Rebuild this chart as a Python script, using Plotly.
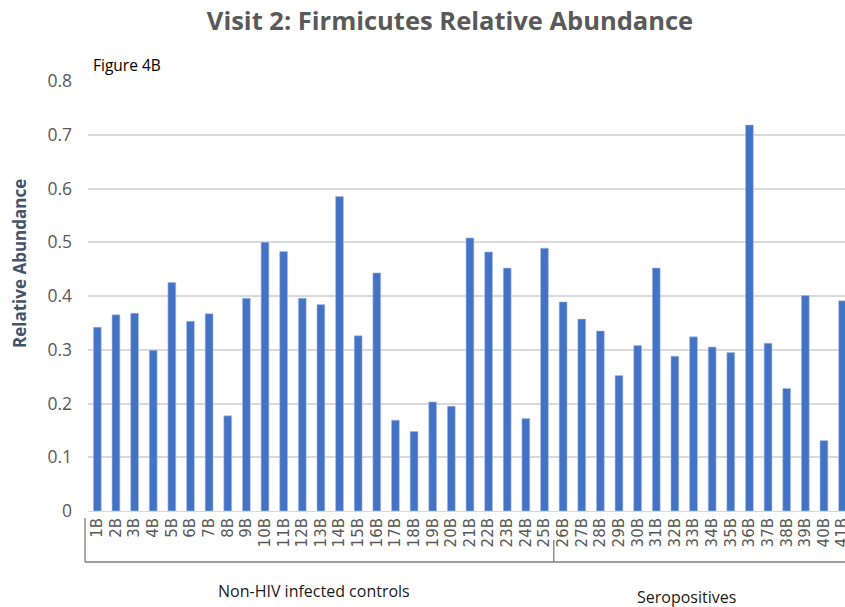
import plotly.graph_objects as go

# Sample IDs and Firmicutes relative abundance at visit 2
samples = [f"{i}B" for i in range(1, 42)]
abundance = [
    0.342, 0.365, 0.368, 0.299, 0.425, 0.353, 0.367, 0.177, 0.396, 0.500,
    0.483, 0.396, 0.384, 0.585, 0.326, 0.443, 0.169, 0.148, 0.203, 0.195,
    0.508, 0.482, 0.452, 0.172, 0.489, 0.389, 0.357, 0.335, 0.252, 0.308,
    0.452, 0.288, 0.324, 0.305, 0.295, 0.718, 0.312, 0.228, 0.401, 0.131,
    0.391,
]
groups = ["Non-HIV infected controls", "Seropositives"]
group_sizes = [25, 16]
y_ticks = [0, 0.1, 0.2, 0.3, 0.4, 0.5, 0.6, 0.7, 0.8]

W, H = 845, 607
L, R, T, B = 88, 0, 81, 96
plot_w = W - L - R
plot_h = H - T - B

BAR = "#4472C4"
GREY = "#595959"
FONT = "Open Sans"

fig = go.Figure(
    go.Bar(
        x=samples,
        y=abundance,
        marker=dict(color=BAR, line=dict(color="#a9bfe6", width=0.6)),
        width=0.42,
        hoverinfo="x+y",
    )
)

fig.update_layout(
    width=W,
    height=H,
    margin=dict(l=L, r=R, t=T, b=B, autoexpand=False),
    plot_bgcolor="white",
    paper_bgcolor="white",
    showlegend=False,
    font=dict(family=FONT, color=GREY),
    title=dict(
        text="<b>Visit 2: Firmicutes Relative Abundance</b>",
        x=450 / W,
        xanchor="center",
        y=1 - 21 / H,
        yanchor="middle",
        font=dict(size=25.5, color=GREY, family=FONT),
    ),
)

fig.update_xaxes(
    type="category",
    range=[-0.5, 40.13],
    tickmode="array",
    tickvals=samples,
    ticktext=samples,
    tickangle=-90,
    tickfont=dict(size=15, color=GREY, family="DejaVu Sans"),
    showgrid=False,
    showline=True,
    linecolor="#d9d9d9",
    linewidth=1,
    ticks="",
    automargin=False,
)

fig.update_yaxes(
    range=[0, 0.8],
    tickvals=y_ticks,
    ticktext=[f"{v:g}" for v in y_ticks],
    tickfont=dict(size=17.5, color=GREY, family=FONT),
    showgrid=True,
    gridcolor="#d9d9d9",
    gridwidth=1.5,
    zeroline=False,
    ticklabelstandoff=15,
    automargin=False,
)


def px_x(pixel_x):
    """Convert a page pixel column into paper x coordinates."""
    return (pixel_x - L) / plot_w


def px_y(pixel_y):
    """Convert a page pixel row into paper y coordinates."""
    return (H - B - pixel_y) / plot_h


line_style = dict(color="#7f7f7f", width=1.3)
shapes = [
    # left edge of the group bracket
    dict(type="line", xref="paper", yref="paper", x0=px_x(85), x1=px_x(85),
         y0=px_y(518), y1=px_y(562), line=line_style),
    # bottom rail of the group bracket
    dict(type="line", xref="paper", yref="paper", x0=px_x(85), x1=1.0,
         y0=px_y(562), y1=px_y(562), line=line_style),
    # divider between the two groups
    dict(type="line", xref="x", yref="paper",
         x0=group_sizes[0] - 0.5, x1=group_sizes[0] - 0.5,
         y0=px_y(540), y1=px_y(562), line=line_style),
]
fig.update_layout(shapes=shapes)

# y-axis title, placed as free text
fig.add_annotation(
    text="<b>Relative Abundance</b>",
    xref="paper", yref="paper", x=px_x(19), y=px_y(264),
    textangle=-90, showarrow=False, xanchor="center", yanchor="middle",
    font=dict(size=17, color="#44546a", family=FONT),
)

# group labels under the bracket
fig.add_annotation(
    text=groups[0],
    xref="paper", yref="paper", x=px_x(314), y=px_y(591),
    showarrow=False, xanchor="center", yanchor="middle",
    font=dict(size=16, color="#1a1a1a", family=FONT),
)
fig.add_annotation(
    text=groups[1],
    xref="paper", yref="paper", x=px_x(686), y=px_y(597),
    showarrow=False, xanchor="center", yanchor="middle",
    font=dict(size=16, color="#1a1a1a", family=FONT),
)
fig.add_annotation(
    text="Figure 4B",
    xref="paper", yref="paper", x=px_x(91), y=px_y(65),
    showarrow=False, xanchor="left", yanchor="middle",
    font=dict(size=15.5, color="#000000", family=FONT),
)

fig.write_html("out.html")
